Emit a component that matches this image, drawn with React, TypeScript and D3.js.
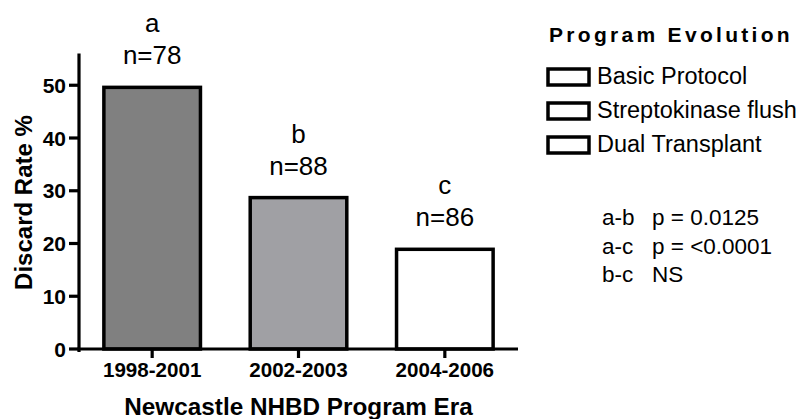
import React from "react";
import * as d3 from "d3";

const categories = ["1998-2001", "2002-2003", "2004-2006"];
const discardRates = [49.6, 28.7, 18.9];
const letters = ["a", "b", "c"];
const counts = ["n=78", "n=88", "n=86"];
const barFills = ["#808080", "#a0a0a4", "#ffffff"];
const yTicks = [0, 10, 20, 30, 40, 50];
const legendTitle = "Program Evolution";
const legendItems = ["Basic Protocol", "Streptokinase flush", "Dual Transplant"];
const statPairs = ["a-b", "a-c", "b-c"];
const statValues = ["p = 0.0125", "p = <0.0001", "NS"];

const FONT = "'Liberation Sans', Arial, Helvetica, sans-serif";

export default function App() {
  const width = 802;
  const height = 419;
  const x0 = 79;
  const x1 = 518;
  const yBase = 349;

  const x = d3
    .scaleBand<string>()
    .domain(categories)
    .range([x0, x1])
    .paddingInner(0.34)
    .paddingOuter(0.17);
  const y = d3.scaleLinear().domain([0, 56]).range([yBase, 53.6]);

  return (
    <svg
      width={width}
      height={height}
      style={{ position: "absolute", left: 0, top: 0, background: "#fff" }}
      fontFamily={FONT}
    >
      <rect x={0} y={0} width={width} height={height} fill="#fff" />
      {/* bars */}
      {categories.map((c, i) => (
        <rect
          key={c}
          x={x(c)!}
          y={y(discardRates[i])}
          width={x.bandwidth()}
          height={yBase - y(discardRates[i])}
          fill={barFills[i]}
          stroke="#000"
          strokeWidth={3.5}
        />
      ))}
      {/* annotations */}
      {categories.map((c, i) => {
        const cx = x(c)! + x.bandwidth() / 2;
        const top = y(discardRates[i]);
        return (
          <g key={"ann" + c} fontSize={26} textAnchor="middle" fill="#000">
            <text x={cx} y={top - 55}>{letters[i]}</text>
            <text x={cx} y={top - 23}>{counts[i]}</text>
          </g>
        );
      })}
      {/* y axis */}
      <line x1={x0} x2={x0} y1={y(56)} y2={yBase + 3} stroke="#000" strokeWidth={3.2} />
      {yTicks.map((t) => (
        <g key={"yt" + t}>
          <line x1={x0 - 10} x2={x0} y1={y(t)} y2={y(t)} stroke="#000" strokeWidth={3.2} />
          <text
            x={x0 - 13}
            y={y(t) + 7.5}
            textAnchor="end"
            fontSize={21}
            fontWeight="bold"
          >
            {t}
          </text>
        </g>
      ))}
      {/* x axis */}
      <line x1={x0 - 1.5} x2={x1} y1={yBase} y2={yBase} stroke="#000" strokeWidth={3.2} />
      {categories.map((c) => {
        const cx = x(c)! + x.bandwidth() / 2;
        return (
          <g key={"xt" + c}>
            <line x1={cx} x2={cx} y1={yBase} y2={yBase + 9} stroke="#000" strokeWidth={3.2} />
            <text x={cx} y={377} textAnchor="middle" fontSize={20.6} fontWeight="bold">
              {c}
            </text>
          </g>
        );
      })}
      {/* axis titles */}
      <text x={298.5} y={415} textAnchor="middle" fontSize={24.3} fontWeight="bold">
        Newcastle NHBD Program Era
      </text>
      <text
        transform="translate(32,202.5) rotate(-90)"
        textAnchor="middle"
        fontSize={24}
        fontWeight="bold"
      >
        Discard Rate %
      </text>
      {/* legend */}
      <text x={549} y={42} fontSize={21} fontWeight="bold" letterSpacing={3.3}>
        {legendTitle}
      </text>
      {legendItems.map((item, i) => (
        <g key={item}>
          <rect
            x={548}
            y={69 + i * 34}
            width={41}
            height={16}
            fill="#fff"
            stroke="#000"
            strokeWidth={3.5}
          />
          <text x={597} y={84 + i * 34} fontSize={23.5}>
            {item}
          </text>
        </g>
      ))}
      {/* stats */}
      {statPairs.map((p, i) => (
        <text key={p} y={225 + i * 28.5} fontSize={22.5}>
          <tspan x={602}>{p}</tspan>
          <tspan x={652}>{statValues[i]}</tspan>
        </text>
      ))}
    </svg>
  );
}
